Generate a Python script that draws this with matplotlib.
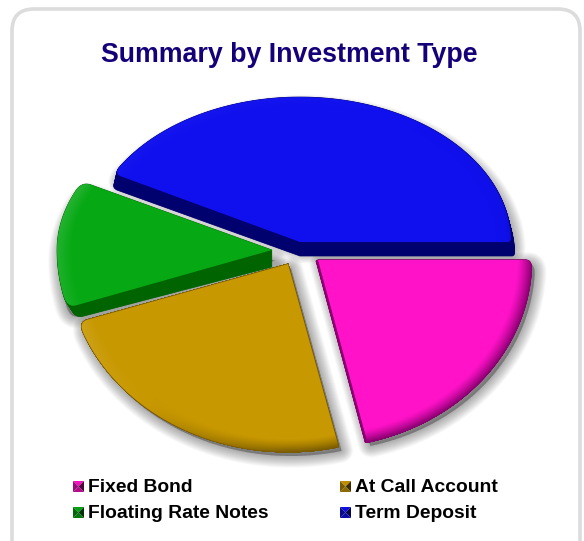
#!/usr/bin/env python
import numpy as np
import matplotlib
matplotlib.use("Agg")
import matplotlib.pyplot as plt
from matplotlib.patches import FancyBboxPatch, Polygon
from matplotlib.path import Path

labels = ["Fixed Bond", "At Call Account", "Floating Rate Notes", "Term Deposit"]
values = [21.3, 23.7, 12.8, 42.2]
colors = ["#ff12c8", "#c89800", "#06a814", "#1010ee"]
darks = ["#8a0070", "#7a5c00", "#006400", "#00006e"]

# centre x, centre y, rx, ry up, ry down, depth dx, depth dy, bevel, depth shrink x, y,
# corner radius at start and end of the arc
geom = [(318, 260, 214, 145, 187, -2, 1, 1.0, 0, 0, 6, 1),
        (288, 264, 220, 145, 188, 0, 0, 1.0, 0, 0, 1, 9),
        (272, 250, 215, 145, 187, 0, 17, 0.7, 0.035, 0.11, 9, 9),
        (300, 242, 211, 145, 187, 0, 14, 0.1, -0.018, 0, 8, 3)]

plt.rcParams["font.family"] = ["Liberation Sans", "DejaVu Sans"]
fig = plt.figure(figsize=(5.84, 5.41), dpi=100)
ax = fig.add_axes([0, 0, 1, 1])

# y axis runs downward, so counterclock goes clockwise on screen
wedges, _ = ax.pie(values, colors=colors, startangle=0, counterclock=True, radius=1)
ax.set_aspect("auto")

def bez(a, b, c, n=10):
    s = np.linspace(0, 1, n)[:, None]
    return (1 - s) ** 2 * a + 2 * s * (1 - s) * b + s ** 2 * c

def warp(wedge, g):
    p = wedge.get_path()
    pts = Path(p.vertices * 1000, p.codes).to_polygons()[0] / 1000
    k = np.argmin(np.hypot(pts[:, 0], pts[:, 1]))
    pts = np.roll(pts[:-1], -k - 1, axis=0)   # arc first, apex last
    x = g[0] + pts[:, 0] * g[2]
    y = g[1] + pts[:, 1] * np.where(pts[:, 1] < 0, g[3], g[4])
    xy = np.column_stack([x, y])
    apex, arc = xy[-1], xy[:-1]
    arc = arc[np.hypot(*(arc - apex).T) > 20]
    # round the two outer corners
    rho0, rho1 = g[10], g[11]
    d0 = np.hypot(*(arc - arc[0]).T)
    d1 = np.hypot(*(arc - arc[-1]).T)
    i0 = np.argmax(d0 > rho0)
    i1 = len(arc) - 1 - np.argmax(d1[::-1] > rho1)
    q0 = arc[0] + (apex - arc[0]) / np.hypot(*(apex - arc[0])) * rho0
    q1 = arc[-1] + (apex - arc[-1]) / np.hypot(*(apex - arc[-1])) * rho1
    return np.vstack([bez(q0, arc[0], arc[i0]), arc[i0:i1 + 1], bez(arc[i1], arc[-1], q1), apex[None]])

polys = [warp(w, g) for w, g in zip(wedges, geom)]
for w in wedges:
    w.remove()

# card
ax.add_patch(FancyBboxPatch((12, 9), 568, 600, boxstyle="round,pad=0,rounding_size=22",
                            fc="white", ec="#dcdcdc", lw=2.6, zorder=0))

# soft shadows
for i in [3, 2, 1, 0]:
    pts = polys[i] + [3, 4 + (geom[i][6] * 0.4 if i >= 2 else 0)]
    for lw in np.linspace(2, 17, 14):
        ax.add_patch(Polygon(pts, closed=True, fc="black", ec="black", lw=lw, alpha=0.022,
                             joinstyle="round", zorder=1))

yy, xx = np.mgrid[0:541, 0:584] + 0.5
for i in [3, 2, 1, 0]:
    g = geom[i]
    z = 2 + (3 - i)
    # side of the slab
    for k in np.linspace(0, 1, 24):
        side = polys[i].copy()
        side[:, 0] = g[0] + (side[:, 0] - g[0]) * (1 - g[8] * k) + g[5] * k
        side[:, 1] = g[1] + (side[:, 1] - g[1]) * (1 - g[9] * k) + g[6] * k
        ax.add_patch(Polygon(side, closed=True, fc=darks[i], ec=darks[i], lw=0.5, zorder=z))
    top = Polygon(polys[i], closed=True, fc="none", ec="none", zorder=z + 0.5)
    ax.add_patch(top)
    # bevel along the outer rim: light from the upper left
    dx = (xx - g[0]) / g[2]
    dy = yy - g[1]
    dy = dy / np.where(dy < 0, g[3], g[4])
    r = np.hypot(dx, dy)
    t = np.clip((r - 0.93) / 0.07, 0, 1)
    light = np.cos(np.arctan2(yy - g[1], xx - g[0]) - np.radians(225))
    base = np.array(matplotlib.colors.to_rgb(colors[i]))
    dark = np.array(matplotlib.colors.to_rgb(darks[i]))
    dk = (t ** 1.3 * np.clip(-light * 1.4, 0, 1) * g[7])[..., None]
    lt = (t * np.clip(light, 0, 1) * 0.22 * g[7])[..., None]
    rgb = base * (1 - dk) + dark * dk
    rgb = rgb * (1 - lt) + lt
    im = ax.imshow(rgb, extent=(0, 584, 541, 0), aspect="auto", interpolation="bilinear", zorder=z + 0.5)
    im.set_clip_path(top)

ax.set_xlim(0, 584)
ax.set_ylim(541, 0)
ax.axis("off")

ax.text(289, 55, "Summary by Investment Type", ha="center", va="center", color="#15007a",
        fontsize=19.3, fontweight="bold")

# legend: small pyramid squares
legend_x = [73, 340, 73, 340]
legend_y = [481, 481, 507, 507]
for i, lab in enumerate(labels):
    x0, y0, s = legend_x[i], legend_y[i], 11
    c = np.array(matplotlib.colors.to_rgb(colors[i]))
    m = (x0 + s / 2, y0 + s / 2)
    tris = [((x0, y0), (x0 + s, y0), c * 0.95),
            ((x0 + s, y0), (x0 + s, y0 + s), c * 0.3),
            ((x0 + s, y0 + s), (x0, y0 + s), c * 0.7),
            ((x0, y0 + s), (x0, y0), c * 0.6)]
    for a, b, col in tris:
        ax.add_patch(Polygon([a, b, m], closed=True, fc=col, ec="none", zorder=10))
    ax.text(x0 + 15, y0 + 11, lab, ha="left", va="baseline", fontsize=13.85, fontweight="bold", color="black")

fig.savefig("out.png", dpi=100)
